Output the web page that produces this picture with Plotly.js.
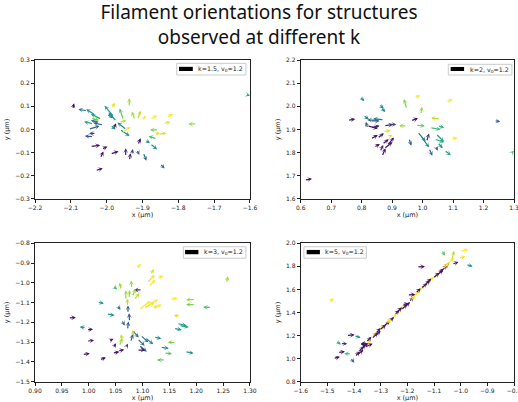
<!DOCTYPE html>
<html>
<head>
<meta charset="utf-8">
<script src="https://cdn.plot.ly/plotly-3.0.1.min.js"></script>
<style>html,body{margin:0;padding:0;background:#fff;}#chart{width:518px;height:402px;}</style>
</head>
<body>
<div id="chart"></div>
<script>
// ---------- Panel 1: k=1.5 ----------
const p1_x = [-2.095,-2.054,-2.032,-2.014,-2.037,-2.009,-2.051,-2.030,-2.037,-1.979,-1.986,-1.972,-1.953,-1.944,-1.964,-1.958,-1.981,-1.937,-1.921,-1.914,-1.902,-1.879,-1.834,-1.842,-1.749,-1.856,-1.867,-1.860,-1.855,-1.913,-1.893,-1.879,-2.046,-2.014,-2.018,-1.990,-1.947,-1.937,-1.930,-1.916,-1.898,-1.852,-2.032,-1.612,-2.045,-2.020,-2.000,-1.965,-1.990];
const p1_y = [0.087,0.081,0.063,0.044,0.024,0.019,0.001,-0.017,-0.031,0.052,0.091,0.034,0.041,-0.002,0.001,-0.014,-0.002,0.099,0.041,0.044,0.038,0.044,0.052,0.024,0.024,-0.002,-0.022,-0.040,-0.019,-0.067,-0.045,-0.060,-0.074,-0.086,-0.124,-0.106,-0.117,-0.134,-0.110,-0.086,-0.100,-0.147,-0.178,0.152,0.050,0.030,0.065,0.030,0.020];
const p1_u = [0.004,-0.025,-0.025,-0.030,-0.026,-0.028,0.031,-0.019,-0.024,-0.027,0.009,-0.023,-0.011,-0.026,0.028,0.025,0.007,0.000,-0.009,0.009,0.012,0.020,0.019,0.020,-0.023,-0.023,0.016,-0.023,0.022,0.008,0.014,0.020,0.028,0.016,0.009,0.023,0.000,0.004,0.003,0.007,0.009,0.014,0.021,0.012,0.024,-0.024,0.020,0.020,0.015];
const p1_v = [0.026,0.006,0.024,0.023,0.010,0.010,0.014,0.000,0.003,0.051,0.025,0.039,0.050,0.032,-0.029,0.026,0.029,0.036,0.036,0.037,0.023,0.017,0.014,0.010,0.000,0.000,0.008,0.011,0.003,0.029,-0.014,-0.026,0.006,0.013,0.029,0.012,0.036,0.032,0.026,-0.024,-0.035,-0.021,0.011,-0.006,-0.010,0.010,-0.015,0.010,-0.020];
const p1_c = [0.02,0.40,0.50,0.55,0.60,0.30,0.30,0.20,0.25,0.55,0.95,0.50,0.75,0.50,0.50,1.00,0.05,0.85,0.85,0.90,1.00,1.00,1.00,0.98,0.85,0.80,0.95,0.70,0.95,0.05,0.50,0.50,0.05,0.05,0.05,0.05,0.15,0.10,0.20,0.30,0.35,0.40,0.05,0.60,0.80,0.35,0.50,0.90,0.45];

// ---------- Panel 2: k=2 ----------
const p2_x = [0.793,0.856,0.862,0.948,0.972,1.077,0.994,0.754,0.805,0.859,0.873,0.818,0.829,0.820,0.873,0.889,0.829,0.948,0.870,0.961,0.977,1.058,1.024,1.049,0.983,0.994,1.013,1.043,1.038,1.049,1.071,1.093,1.021,1.043,0.955,0.829,0.851,0.840,0.867,0.873,0.884,0.867,0.860,0.889,0.612,1.235,1.292];
const p2_y = [2.042,2.010,1.996,1.988,2.034,2.017,1.965,1.939,1.962,1.941,1.942,1.916,1.908,1.905,1.916,1.922,1.937,1.916,1.891,1.937,1.919,1.945,1.908,1.916,1.891,1.873,1.847,1.883,1.859,1.845,1.811,1.859,1.819,1.830,1.862,1.859,1.862,1.823,1.836,1.816,1.830,1.783,1.804,1.869,1.682,1.938,1.798];
const p2_u = [0.016,0.016,0.016,-0.009,0.020,0.021,0.004,0.025,0.019,-0.040,-0.035,0.035,0.030,-0.006,0.030,0.025,0.030,-0.025,0.025,0.024,0.030,-0.030,0.035,0.022,0.027,0.027,0.008,0.027,0.033,0.017,0.022,0.022,0.011,0.006,0.008,0.024,0.022,0.020,0.022,0.028,0.022,0.011,0.011,0.011,0.025,0.020,0.008];
const p2_v = [-0.019,-0.019,-0.020,0.044,0.014,0.013,0.033,0.006,-0.019,0.000,0.005,-0.012,0.008,0.028,0.006,0.000,0.000,0.000,0.005,0.012,-0.004,0.005,-0.008,-0.008,-0.043,-0.050,0.036,-0.036,-0.014,-0.026,-0.022,0.007,-0.032,-0.022,-0.032,0.017,0.022,0.014,0.022,0.030,0.036,0.036,0.029,0.007,0.005,-0.004,0.010];
const p2_c = [0.50,0.50,0.45,0.80,1.00,1.00,0.85,0.05,0.45,0.30,0.40,0.05,0.08,0.25,0.10,0.20,0.35,0.85,0.95,0.05,0.75,0.90,0.70,0.65,0.40,0.45,0.15,0.55,0.65,0.50,0.60,1.00,0.30,0.30,0.30,0.05,0.05,0.05,0.05,0.05,0.05,0.05,0.10,0.95,0.05,0.30,0.70];

// ---------- Panel 3: k=3 ----------
const p3_x = [1.088,1.115,1.108,1.111,1.127,1.044,1.061,1.080,1.099,1.093,1.102,1.111,1.118,1.069,1.075,1.081,1.084,1.072,1.073,1.076,1.072,1.151,1.198,1.198,1.228,1.170,1.164,1.168,1.158,1.162,1.121,1.133,1.140,1.179,1.142,1.081,1.090,1.096,1.093,1.105,1.090,1.063,1.057,1.053,1.061,0.995,1.016,1.033,0.996,0.996,0.988,1.020,1.037,1.045,1.044,1.054,1.069,0.962,1.256,1.118,1.085,1.078];
const p3_y = [-0.930,-0.960,-1.002,-1.019,-0.977,-1.014,-1.036,-1.028,-1.036,-1.137,-1.129,-1.112,-1.129,-1.087,-1.078,-1.070,-1.087,-1.120,-1.154,-1.196,-1.238,-1.083,-1.085,-1.110,-1.125,-1.168,-1.205,-1.215,-1.230,-1.301,-1.275,-1.325,-1.355,-1.348,-1.390,-1.238,-1.281,-1.264,-1.314,-1.277,-1.340,-1.300,-1.320,-1.112,-1.188,-1.226,-1.097,-1.157,-1.237,-1.295,-1.363,-1.390,-1.295,-1.330,-1.356,-1.345,-1.330,-1.177,-1.002,-1.125,-1.280,-1.300];
const p3_u = [0.009,0.006,0.015,0.013,0.012,0.009,-0.004,-0.001,-0.015,0.022,0.020,0.018,0.018,0.000,0.001,0.006,0.010,0.000,0.000,-0.001,0.002,0.014,-0.017,-0.017,-0.015,-0.012,0.018,0.018,0.015,-0.015,0.014,0.016,0.015,0.016,-0.015,0.012,0.014,0.015,0.015,0.015,0.015,-0.003,0.005,0.006,0.006,-0.012,0.012,0.015,0.012,0.014,0.014,0.012,0.009,0.006,0.013,0.012,0.004,0.014,0.003,0.012,-0.004,0.004];
const p3_v = [0.027,0.030,0.042,0.034,0.013,-0.020,0.037,0.040,0.000,0.045,0.030,0.028,0.018,0.050,0.042,0.040,0.035,0.040,0.040,0.042,0.042,0.005,0.000,0.000,0.003,0.003,-0.012,-0.010,-0.008,0.000,-0.007,-0.007,-0.004,-0.008,0.000,-0.039,-0.037,-0.037,-0.034,-0.034,0.000,0.040,0.040,-0.025,-0.028,0.003,-0.008,-0.008,0.002,0.004,0.006,0.013,0.012,0.025,0.007,0.007,0.022,0.002,0.035,0.008,0.040,0.040];
const p3_c = [1.00,0.95,0.98,1.00,1.00,0.70,0.85,0.85,0.10,1.00,0.95,1.00,1.00,0.85,0.85,0.85,0.90,0.90,0.30,0.25,0.30,1.00,0.85,0.80,0.70,0.95,0.55,0.60,0.50,0.80,0.50,0.50,0.75,0.50,0.75,0.35,0.35,0.40,0.35,0.45,0.05,0.90,0.85,0.30,0.30,0.50,0.50,0.50,0.05,0.05,0.05,0.05,0.05,0.10,0.05,0.05,0.15,0.05,0.85,1.00,0.90,0.30];

// ---------- Panel 4: k=5 ----------
const p4_x = [-1.400,-1.355,-1.335,-1.310,-1.285,-1.265,-1.245,-1.230,-1.180,-1.160,-1.140,-1.120,-1.060,-1.045,-1.100,-1.398,-1.385,-1.372,-1.345,-1.355,-1.335,-1.320,-1.305,-1.290,-1.270,-1.225,-1.210,-1.220,-1.195,-1.200,-1.170,-1.150,-1.135,-1.105,-1.090,-1.075,-1.065,-1.250,-1.360,-1.497,-1.164,-0.980,-1.071,-1.033,-1.002,-1.008,-1.033,-1.428,-1.400,-1.469,-1.451,-1.461,-1.478,-1.410,-1.414,-1.350,-1.325,-1.280,-1.240,-1.190,-1.130,-1.085,-1.070,-1.390,-1.375];
const p4_y = [1.040,1.120,1.180,1.235,1.290,1.330,1.380,1.410,1.530,1.575,1.620,1.665,1.790,1.830,1.700,1.015,1.055,1.090,1.128,1.140,1.170,1.215,1.245,1.280,1.315,1.420,1.445,1.470,1.490,1.552,1.565,1.605,1.640,1.695,1.720,1.755,1.780,1.375,1.100,1.486,1.795,1.818,1.942,1.855,1.928,1.870,1.818,1.200,1.200,1.153,1.130,1.052,1.000,1.040,1.009,1.135,1.190,1.300,1.400,1.500,1.650,1.735,1.775,1.030,1.075];
const p4_u = [0.025,0.020,0.020,0.025,0.025,0.025,0.025,0.020,0.025,0.025,0.025,0.020,0.020,0.020,0.020,0.020,0.022,0.025,-0.030,0.020,0.025,0.020,0.025,0.025,0.020,0.025,0.020,0.025,0.020,0.030,0.020,0.025,0.020,0.025,0.025,0.025,0.020,0.020,0.030,0.021,0.030,0.025,0.012,0.008,0.030,0.025,0.025,0.030,0.025,0.020,0.026,0.027,0.025,-0.027,0.015,-0.025,0.025,0.020,0.020,0.020,0.020,0.020,0.025,0.025,0.020];
const p4_v = [0.020,0.045,0.050,0.055,0.060,0.060,0.055,0.050,0.055,0.060,0.050,0.045,0.050,0.045,0.045,0.045,0.050,0.045,-0.005,0.050,0.055,0.050,0.050,0.045,0.045,0.050,0.045,0.005,0.045,0.004,0.045,0.050,0.040,0.050,0.050,0.055,0.045,0.045,0.030,0.038,0.003,-0.020,-0.050,0.080,0.020,0.018,0.020,0.006,-0.020,-0.030,0.000,0.010,0.017,0.004,-0.045,-0.005,0.050,0.040,0.045,0.045,0.045,0.045,0.050,0.045,0.050];
const p4_c = [1.00,1.00,1.00,1.00,1.00,1.00,1.00,1.00,1.00,1.00,1.00,1.00,1.00,1.00,1.00,0.05,0.05,0.05,0.05,0.05,0.05,0.05,0.05,0.05,0.05,0.05,0.05,0.05,0.05,0.05,0.05,0.05,0.05,0.05,0.05,0.05,0.05,0.05,0.05,1.00,0.05,0.55,0.75,0.90,1.00,1.00,0.10,0.05,0.50,0.60,0.15,0.05,0.05,0.70,0.35,0.05,0.05,1.00,0.05,1.00,0.05,0.05,1.00,0.05,0.05];

// ---------- Labels and ticks ----------
const legendLabels = ['k=1.5, v<sub>0</sub>=1.2','k=2, v<sub>0</sub>=1.2','k=3, v<sub>0</sub>=1.2','k=5, v<sub>0</sub>=1.2'];
const xRanges = [[-2.2,-1.6],[0.6,1.3],[0.9,1.3],[-1.6,-0.8]];
const yRanges = [[-0.3,0.3],[1.6,2.2],[-1.5,-0.8],[0.8,2.0]];
const xTicks1 = [-2.2,-2.1,-2.0,-1.9,-1.8,-1.7,-1.6];
const yTicks1 = [-0.3,-0.2,-0.1,0.0,0.1,0.2,0.3];
const xTicks2 = [0.6,0.7,0.8,0.9,1.0,1.1,1.2,1.3];
const yTicks2 = [1.6,1.7,1.8,1.9,2.0,2.1,2.2];
const xTicks3 = [0.90,0.95,1.00,1.05,1.10,1.15,1.20,1.25,1.30];
const yTicks3 = [-1.5,-1.4,-1.3,-1.2,-1.1,-1.0,-0.9,-0.8];
const xTicks4 = [-1.6,-1.5,-1.4,-1.3,-1.2,-1.1,-1.0,-0.9,-0.8];
const yTicks4 = [0.8,1.0,1.2,1.4,1.6,1.8,2.0];
const xTickSets = [xTicks1,xTicks2,xTicks3,xTicks4];
const yTickSets = [yTicks1,yTicks2,yTicks3,yTicks4];
const xFormats = ['.1f','.1f','.2f','.1f'];

// viridis colour lookup
const VIR = ['#440154','#48186a','#472d7b','#424086','#3b528b','#33638d','#2c728e','#26828e','#21918c','#1fa088','#28ae80','#3fbc73','#5ec962','#84d44b','#addc30','#d8e219','#fde725'];
function hex2rgb(h){return [parseInt(h.substr(1,2),16),parseInt(h.substr(3,2),16),parseInt(h.substr(5,2),16)];}
function viridis(t){
  t = Math.max(0,Math.min(1,t));
  const p = t*(VIR.length-1); const i = Math.min(Math.floor(p), VIR.length-2); const f = p-i;
  const a = hex2rgb(VIR[i]), b = hex2rgb(VIR[i+1]);
  return 'rgb('+a.map((v,k)=>Math.round(v+(b[k]-v)*f)).join(',')+')';
}

const panels = [
  {x:p1_x,y:p1_y,u:p1_u,v:p1_v,c:p1_c},
  {x:p2_x,y:p2_y,u:p2_u,v:p2_v,c:p2_c},
  {x:p3_x,y:p3_y,u:p3_u,v:p3_v,c:p3_c},
  {x:p4_x,y:p4_y,u:p4_u,v:p4_v,c:p4_c}
];
const axNames = [['x','y'],['x2','y2'],['x3','y3'],['x4','y4']];
const xDomains = [[0.0676,0.4826],[0.5805,0.9923],[0.0676,0.4826],[0.5805,0.9923]];
const yDomains = [[0.505,0.8507],[0.505,0.8507],[0.0505,0.3948],[0.0505,0.3948]];
const legendBox = [
  {box:[0.659,0.981,0.892,0.976], key:[0.670,0.734,0.921,0.951], tx:0.750},
  {box:[0.692,0.990,0.892,0.969], key:[0.703,0.766,0.921,0.950], tx:0.782},
  {box:[0.690,0.981,0.892,0.975], key:[0.698,0.760,0.921,0.952], tx:0.776},
  {box:[0.015,0.308,0.892,0.975], key:[0.028,0.090,0.921,0.952], tx:0.106}
];

const traces = [];
const annotations = [];
const shapes = [];
const layout = {
  width:518, height:402,
  margin:{l:0,r:0,t:0,b:0},
  paper_bgcolor:'#fff', plot_bgcolor:'#fff',
  font:{family:'DejaVu Sans', size:6, color:'#222'},
  title:{text:'Filament orientations for structures<br>observed at different k', font:{family:'Noto Sans', size:19, color:'#111'}, x:0.5, xanchor:'center', y:0.952, yanchor:'top', yref:'container'},
  showlegend:false
};

panels.forEach((p,k)=>{
  const xa = axNames[k][0], ya = axNames[k][1];
  traces.push({
    type:'scatter', mode:'markers', x:[null], y:[null], xaxis:xa, yaxis:ya,
    name:legendLabels[k], showlegend:false, hoverinfo:'skip'
  });
  for(let i=0;i<p.x.length;i++){
    annotations.push({
      xref:xa, yref:ya, axref:xa, ayref:ya,
      x:p.x[i]+p.u[i], y:p.y[i]+p.v[i], ax:p.x[i], ay:p.y[i],
      text:'', showarrow:true, arrowhead:3, arrowsize:0.65, arrowwidth:1.25,
      arrowcolor:viridis(p.c[i]), standoff:0, startstandoff:0
    });
  }
  const lb = legendBox[k];
  shapes.push({type:'rect', xref:xa+' domain', yref:ya+' domain', x0:lb.box[0], x1:lb.box[1], y0:lb.box[2], y1:lb.box[3],
               fillcolor:'rgba(255,255,255,0.85)', line:{color:'#cccccc', width:1}, layer:'above'});
  shapes.push({type:'rect', xref:xa+' domain', yref:ya+' domain', x0:lb.key[0], x1:lb.key[1], y0:lb.key[2], y1:lb.key[3],
               fillcolor:'#000', line:{width:0}, layer:'above'});
  annotations.push({xref:xa+' domain', yref:ya+' domain', x:lb.tx, y:(lb.box[2]+lb.box[3])/2,
                    xanchor:'left', yanchor:'middle', showarrow:false, text:legendLabels[k],
                    font:{family:'DejaVu Sans', size:6.3, color:'#222'}});
  const axKeyX = k===0 ? 'xaxis' : 'xaxis'+(k+1);
  const axKeyY = k===0 ? 'yaxis' : 'yaxis'+(k+1);
  const common = {showgrid:false, zeroline:false, showline:true, mirror:true, linecolor:'#222', linewidth:1,
                  ticks:'outside', ticklen:3, tickwidth:1, tickcolor:'#222', automargin:false,
                  ticklabeloverflow:'allow',
                  tickfont:{family:'DejaVu Sans', size:6, color:'#222'}};
  layout[axKeyX] = Object.assign({}, common, {
    domain:xDomains[k], anchor:ya, range:xRanges[k], tickmode:'array', tickvals:xTickSets[k], tickformat:xFormats[k],
    title:{text:'x (μm)', font:{family:'DejaVu Sans', size:6.5, color:'#222'}, standoff:2}
  });
  layout[axKeyY] = Object.assign({}, common, {
    domain:yDomains[k], anchor:xa, range:yRanges[k], tickmode:'array', tickvals:yTickSets[k], tickformat:'.1f',
    title:{text:'y (μm)', font:{family:'DejaVu Sans', size:6.5, color:'#222'}, standoff:4}
  });
});
layout.annotations = annotations;
layout.shapes = shapes;

Plotly.newPlot('chart', traces, layout, {displayModeBar:false, staticPlot:true});
</script>
</body>
</html>
